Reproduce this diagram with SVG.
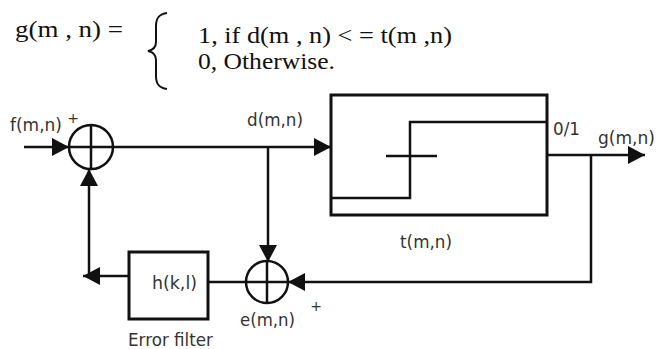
<svg xmlns="http://www.w3.org/2000/svg" width="657" height="349" viewBox="0 0 657 349">
<style>
.ln{stroke:#111;stroke-width:2.5;fill:none}
.bx{stroke:#111;stroke-width:3;fill:none}
.eq{font-family:"Liberation Serif",serif;font-size:24px;fill:#111}
.lb{font-family:"DejaVu Sans",sans-serif;font-size:17px;fill:#333}
.pl{font-family:"DejaVu Sans",sans-serif;font-size:14px;fill:#333}
</style>
<defs>
<marker id="ah" viewBox="0 0 17 18" refX="17" refY="9" markerWidth="17" markerHeight="18" markerUnits="userSpaceOnUse" orient="auto">
<path d="M0,0 L17,9 L0,18 Z" fill="#111"/>
</marker>
</defs>
<g id="formula">
<text class="eq" x="15" y="37" textLength="108" lengthAdjust="spacingAndGlyphs">g(m , n) =</text>
<path d="M167,13 C159,14 156,18 156,26 L156,42 C156,48 153,50 148,51 C153,52 156,54 156,60 L156,76 C156,84 159,88 167,89" stroke="#111" stroke-width="2" fill="none"/>
<text class="eq" x="198" y="43" textLength="254" lengthAdjust="spacingAndGlyphs">1, if d(m , n) &lt; = t(m ,n)</text>
<text class="eq" x="198" y="69" textLength="137" lengthAdjust="spacingAndGlyphs">0, Otherwise.</text>
</g>
<g id="connectors">
<line class="ln" x1="24" y1="147" x2="69" y2="147" marker-end="url(#ah)"/>
<line class="ln" x1="113" y1="147" x2="331" y2="147" marker-end="url(#ah)"/>
<line class="ln" x1="268" y1="147" x2="268" y2="262" marker-end="url(#ah)"/>
<line class="ln" x1="547" y1="155" x2="645" y2="155" marker-end="url(#ah)"/>
<polyline class="ln" points="591,155 591,282 288,282" marker-end="url(#ah)"/>
<line class="ln" x1="208" y1="282" x2="245" y2="282"/>
<line class="ln" x1="128" y1="276" x2="83" y2="276" marker-end="url(#ah)"/>
<polyline class="ln" points="89,276 89,169" marker-end="url(#ah)"/>
</g>
<g id="sum1">
<circle class="ln" cx="91" cy="147" r="22"/>
<line class="ln" x1="69" y1="147" x2="113" y2="147"/>
<line class="ln" x1="91" y1="125" x2="91" y2="169"/>
<text class="pl" x="73" y="123" text-anchor="middle">+</text>
</g>
<g id="threshold">
<rect class="bx" x="331" y="95" width="216" height="120"/>
<polyline class="ln" points="331,198 410,198 410,122 547,122"/>
<line class="ln" x1="386" y1="156" x2="437" y2="156"/>
</g>
<g id="sum2">
<circle class="ln" cx="267" cy="282" r="21"/>
<line class="ln" x1="246" y1="282" x2="288" y2="282"/>
<line class="ln" x1="267" y1="261" x2="267" y2="303"/>
<text class="pl" x="316" y="311" text-anchor="middle">+</text>
</g>
<g id="filter">
<rect class="bx" x="129" y="252" width="79" height="67"/>
<text class="lb" x="152" y="289" textLength="45" lengthAdjust="spacingAndGlyphs">h(k,l)</text>
</g>
<g id="labels">
<text class="lb" x="10" y="131" textLength="52" lengthAdjust="spacingAndGlyphs">f(m,n)</text>
<text class="lb" x="247" y="126" textLength="56" lengthAdjust="spacingAndGlyphs">d(m,n)</text>
<text class="lb" x="553" y="135" textLength="27" lengthAdjust="spacingAndGlyphs">0/1</text>
<text class="lb" x="598" y="144" textLength="57" lengthAdjust="spacingAndGlyphs">g(m,n)</text>
<text class="lb" x="400" y="248" textLength="52" lengthAdjust="spacingAndGlyphs">t(m,n)</text>
<text class="lb" x="240" y="326" textLength="55" lengthAdjust="spacingAndGlyphs">e(m,n)</text>
<text class="lb" x="128" y="346" textLength="85" lengthAdjust="spacingAndGlyphs" font-size="16">Error filter</text>
</g>
</svg>
